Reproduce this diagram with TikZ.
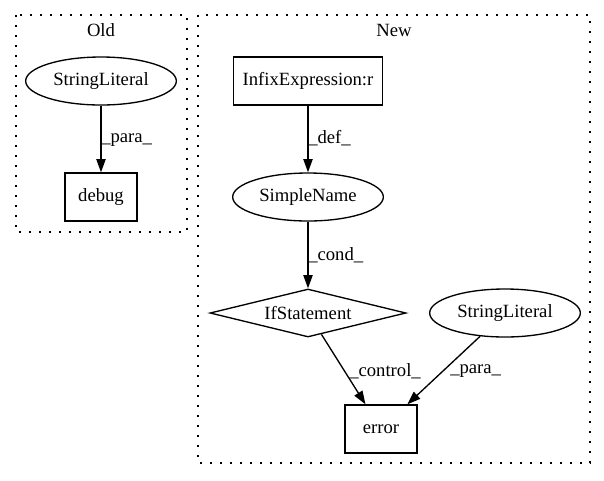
\documentclass[tikz,border=0pt]{standalone}
\usepackage{fontspec}
\setmainfont{Liberation Serif}
\usetikzlibrary{shapes.geometric,arrows.meta}
\begin{document}
\begin{tikzpicture}[x=0.75pt,y=-0.75pt,
  every node/.style={font=\fontsize{14}{16}\selectfont},
  cluster/.style={draw, line width=1pt, dash pattern=on 1.2pt off 6.3pt},
  ell/.style={draw, ellipse, line width=1pt, minimum width=113pt, minimum height=36pt, inner sep=0pt},
  box/.style={draw, rectangle, line width=1pt, minimum height=36pt, inner sep=0pt},
  dia/.style={draw, diamond, line width=1pt, shape aspect=4.1, minimum width=147pt, minimum height=36pt, inner sep=0pt},
  conn/.style={-{Triangle[length=10pt,width=7pt]}, line width=1pt},
  elabel/.style={anchor=west, inner sep=0pt}
]
\useasboundingbox (0,0) rectangle (604,480);
% clusters
\draw[cluster] (16,15) rectangle (187,232);
\draw[cluster] (198,15) rectangle (590,463);
\node (told) at (101,30) {Old};
\node (tnew) at (394,30) {New};
% nodes
\node[ell] (slold) at (101,81) {StringLiteral};
\node[box, minimum width=54pt] (debug) at (101,197) {debug};
\node[box, minimum width=112pt] (infix) at (308,81) {InfixExpression:r};
\node[ell] (simple) at (308,197) {SimpleName};
\node[dia] (ifs) at (308,313) {IfStatement};
\node[ell] (slnew) at (505,313) {StringLiteral};
\node[box, minimum width=54pt] (error) at (381,429) {error};
% edges
\draw[conn] (slold) -- (debug);
\draw[conn] (infix) -- (simple);
\draw[conn] (simple) -- (ifs);
\draw[conn] (ifs) -- (error);
\draw[conn] (slnew) -- (error);
% labels
\node[elabel] (lpara1) at (101,140) {\_para\_};
\node[elabel] (ldef) at (308,138) {\_def\_};
\node[elabel] (lcond) at (308,255) {\_cond\_};
\node[elabel] (lcontrol) at (349,371) {\_control\_};
\node[elabel] (lpara2) at (450,371) {\_para\_};
\end{tikzpicture}
\end{document}
